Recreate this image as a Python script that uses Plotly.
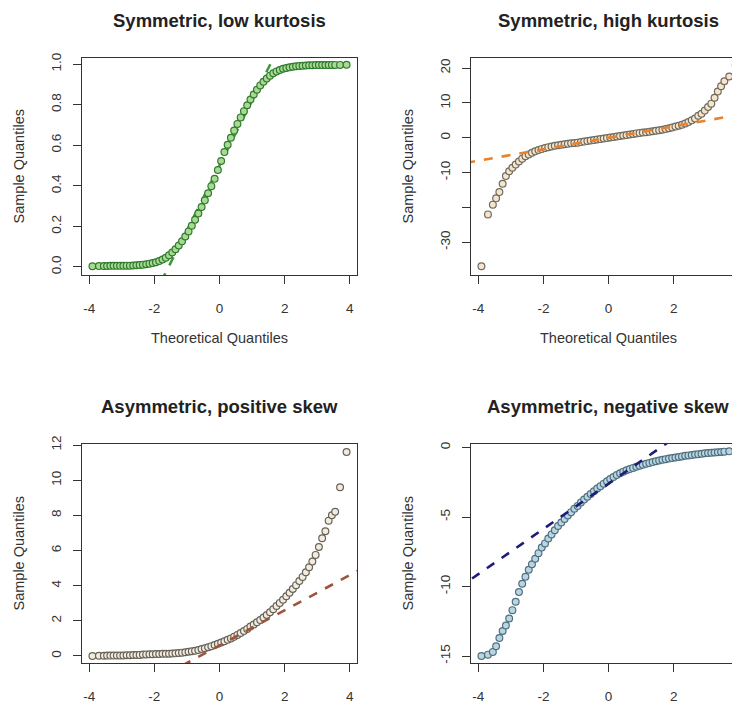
import plotly.graph_objects as go

# ---------------- data ----------------
theoretical_quantiles = [
    -3.9, -3.7, -3.55, -3.45, -3.35, -3.25, -3.15, -3.05, -2.95, -2.85,
    -2.75, -2.65, -2.55, -2.45, -2.35, -2.25, -2.15, -2.05, -1.95, -1.85,
    -1.75, -1.65, -1.55, -1.45, -1.35, -1.25, -1.15, -1.05, -0.95, -0.85,
    -0.75, -0.65, -0.55, -0.45, -0.35, -0.25, -0.15, -0.05,
    0.05, 0.15, 0.25, 0.35, 0.45, 0.55, 0.65, 0.75, 0.85, 0.95,
    1.05, 1.15, 1.25, 1.35, 1.45, 1.55, 1.65, 1.75, 1.85, 1.95,
    2.05, 2.15, 2.25, 2.35, 2.45, 2.55, 2.65, 2.75, 2.85, 2.95,
    3.05, 3.15, 3.25, 3.35, 3.45, 3.55, 3.7, 3.9,
]

low_kurtosis = [
    0.003, 0.004, 0.004, 0.004, 0.005, 0.005, 0.005, 0.005, 0.005, 0.006,
    0.006, 0.007, 0.008, 0.009, 0.011, 0.013, 0.016, 0.019, 0.023, 0.029,
    0.036, 0.045, 0.057, 0.071, 0.087, 0.105, 0.126, 0.150, 0.175, 0.203,
    0.232, 0.263, 0.295, 0.328, 0.363, 0.398, 0.434, 0.478,
    0.522, 0.566, 0.602, 0.637, 0.672, 0.705, 0.737, 0.768, 0.797, 0.825,
    0.850, 0.874, 0.895, 0.913, 0.929, 0.943, 0.955, 0.964, 0.971, 0.977,
    0.981, 0.984, 0.987, 0.989, 0.991, 0.992, 0.993, 0.994, 0.994, 0.995,
    0.995, 0.995, 0.995, 0.995, 0.996, 0.996, 0.996, 0.997,
]

high_kurtosis = [
    -36.9, -22.0, -19.2, -17.4, -15.6, -13.2, -11.0, -9.6, -8.6, -7.7,
    -6.8, -6.0, -5.3, -4.8, -4.3, -3.9, -3.5, -3.2, -2.95, -2.7,
    -2.5, -2.3, -2.15, -2.0, -1.85, -1.75, -1.6, -1.5, -1.4, -1.25,
    -1.1, -0.95, -0.8, -0.65, -0.5, -0.35, -0.2, -0.07,
    0.07, 0.2, 0.35, 0.5, 0.65, 0.8, 0.95, 1.1, 1.25, 1.4,
    1.5, 1.6, 1.75, 1.85, 2.0, 2.15, 2.3, 2.5, 2.7, 2.95,
    3.2, 3.45, 3.75, 4.1, 4.5, 5.0, 5.5, 6.3, 6.9, 7.8,
    8.8, 9.8, 11.5, 13.3, 14.8, 16.2, 17.6, 20.9,
]

positive_skew = [
    0.0, 0.01, 0.01, 0.02, 0.02, 0.02, 0.03, 0.03, 0.03, 0.04,
    0.04, 0.05, 0.05, 0.06, 0.08, 0.09, 0.10, 0.10, 0.11, 0.11,
    0.12, 0.12, 0.13, 0.14, 0.15, 0.17, 0.19, 0.21, 0.24, 0.27,
    0.30, 0.34, 0.39, 0.44, 0.50, 0.56, 0.62, 0.69,
    0.76, 0.84, 0.92, 1.00, 1.10, 1.20, 1.31, 1.42, 1.54, 1.67,
    1.79, 1.92, 2.05, 2.19, 2.33, 2.49, 2.66, 2.84, 3.02, 3.20,
    3.40, 3.60, 3.81, 4.03, 4.26, 4.50, 4.76, 5.05, 5.37, 5.75,
    6.20, 6.70, 7.10, 7.70, 8.00, 8.20, 9.60, 11.6,
]

negative_skew = [
    -15.0, -14.9, -14.7, -14.3, -13.7, -13.2, -12.8, -12.3, -11.7, -11.1,
    -10.4, -9.8, -9.3, -8.8, -8.4, -8.0, -7.6, -7.2, -6.9, -6.55,
    -6.25, -5.95, -5.65, -5.4, -5.15, -4.9, -4.65, -4.4, -4.2, -3.95,
    -3.75, -3.55, -3.35, -3.15, -2.95, -2.78, -2.6, -2.43,
    -2.27, -2.12, -1.98, -1.85, -1.74, -1.64, -1.55, -1.47, -1.39, -1.31,
    -1.24, -1.17, -1.11, -1.05, -0.99, -0.94, -0.89, -0.84, -0.80, -0.76,
    -0.72, -0.68, -0.64, -0.60, -0.57, -0.54, -0.51, -0.48, -0.45, -0.42,
    -0.40, -0.38, -0.36, -0.34, -0.32, -0.30, -0.28, -0.25,
]

panel_titles = [
    "Symmetric, low kurtosis",
    "Symmetric, high kurtosis",
    "Asymmetric, positive skew",
    "Asymmetric, negative skew",
]
sample_series = [low_kurtosis, high_kurtosis, positive_skew, negative_skew]

# reference (qq) line of each panel: intercept and slope
qqline_intercepts = [0.5, 0.0, 0.6, -2.6]
qqline_slopes = [0.32, 1.65, 1.0, 1.63]

x_tick_values = [-4, -2, 0, 2, 4]
y_tick_values = [
    [0.0, 0.2, 0.4, 0.6, 0.8, 1.0],
    [-30, -20, -10, 0, 10, 20],
    [0, 2, 4, 6, 8, 10, 12],
    [-15, -10, -5, 0],
]
y_tick_text = [
    ["0.0", "0.2", "0.4", "0.6", "0.8", "1.0"],
    ["-30", "", "-10", "0", "10", "20"],
    ["0", "2", "4", "6", "8", "10", "12"],
    ["-15", "-10", "-5", "0"],
]

# ---------------- styling ----------------
# the page body has an 8px margin, so the figure is sized to end at the window edge
OFF = 8
W, H = 740 - OFF, 704 - OFF
FONT = "Liberation Sans, Arial, Helvetica, sans-serif"
AXIS_COLOR = "#333333"
TEXT_COLOR = "#333333"

marker_fill = ["#a9da92", "#f6e4cc", "#f3ecde", "#b9d5e1"]
marker_edge = ["#2f7a2f", "#6e6a5e", "#66625a", "#4f6f7f"]
line_colors = ["#3c9a3c", "#e8822e", "#a0523a", "#1c1c7a"]
line_under_points = [True, False, False, False]


def px_x(p):
    return (p - OFF) / W


def px_y(p):
    return 1 - (p - OFF) / H


# page-pixel geometry of the four plot boxes (left, right, top, bottom)
boxes_px = [
    (82, 357, 58, 275),
    (471, 740, 58, 275),
    (82, 357, 444, 663),
    (471, 740, 444, 663),
]
panel_centers_px = [219, 608, 219, 608]
x_ranges = [[-4.22, 4.22], [-4.22, 4.03], [-4.22, 4.22], [-4.22, 4.03]]
y_ranges = [[-0.04, 1.03], [-39.4, 22.9], [-0.4, 12.06], [-15.5, 0.25]]
mirror_y = [True, False, True, False]

fig = go.Figure()

for i in range(4):
    ax = "" if i == 0 else str(i + 1)
    lx = [-6, 6]
    ly = [qqline_intercepts[i] + qqline_slopes[i] * v for v in lx]
    line_trace = go.Scatter(
        x=lx, y=ly, mode="lines",
        line=dict(color=line_colors[i], width=2.6, dash="9px,9px"),
        xaxis="x" + ax, yaxis="y" + ax, showlegend=False, hoverinfo="skip",
    )
    point_trace = go.Scatter(
        x=theoretical_quantiles, y=sample_series[i],
        mode="markers",
        marker=dict(symbol="circle", size=6.8, color=marker_fill[i],
                    line=dict(color=marker_edge[i], width=1.2)),
        xaxis="x" + ax, yaxis="y" + ax, showlegend=False, hoverinfo="x+y",
    )
    if line_under_points[i]:
        fig.add_trace(line_trace)
        fig.add_trace(point_trace)
    else:
        fig.add_trace(point_trace)
        fig.add_trace(line_trace)

layout = dict(
    width=W, height=H,
    margin=dict(l=0, r=0, t=0, b=0),
    paper_bgcolor="white", plot_bgcolor="white",
    showlegend=False,
    font=dict(family=FONT, color=TEXT_COLOR, size=13.5),
)

annotations = []
for i in range(4):
    l, r, t, b = boxes_px[i]
    ax = "" if i == 0 else str(i + 1)
    layout["xaxis" + ax] = dict(
        domain=[px_x(l), min(1.0, px_x(r))], range=x_ranges[i], anchor="y" + ax,
        showgrid=False, zeroline=False,
        showline=True, linecolor=AXIS_COLOR, linewidth=1, mirror=True,
        ticks="outside", ticklen=8, tickcolor=AXIS_COLOR, tickwidth=1,
        tickvals=x_tick_values,
        ticktext=[str(v) if v >= 0 else "-" + str(-v) for v in x_tick_values],
        tickfont=dict(family=FONT, size=13.5, color=TEXT_COLOR),
        ticklabelstandoff=13, ticklabeloverflow="allow",
        automargin=False, fixedrange=True,
    )
    layout["yaxis" + ax] = dict(
        domain=[px_y(b), px_y(t)], range=y_ranges[i], anchor="x" + ax,
        showgrid=False, zeroline=False,
        showline=True, linecolor=AXIS_COLOR, linewidth=1, mirror=mirror_y[i],
        ticks="outside", ticklen=8, tickcolor=AXIS_COLOR, tickwidth=1,
        tickvals=y_tick_values[i], ticktext=y_tick_text[i], tickangle=-90,
        tickfont=dict(family=FONT, size=13.5, color=TEXT_COLOR),
        ticklabelstandoff=7,
        automargin=False, fixedrange=True,
    )
    cx = panel_centers_px[i]
    # panel title
    annotations.append(dict(
        text="<b>" + panel_titles[i] + "</b>", xref="paper", yref="paper",
        x=px_x(cx), y=px_y(t - 38), xanchor="center", yanchor="middle",
        showarrow=False, font=dict(family=FONT, size=18.5, color="#222222"),
    ))
    # y axis title
    annotations.append(dict(
        text="Sample Quantiles", xref="paper", yref="paper",
        x=px_x(l - 64), y=px_y((t + b) / 2), xanchor="center", yanchor="middle",
        textangle=-90, showarrow=False,
        font=dict(family=FONT, size=14.5, color=TEXT_COLOR),
    ))
    # x axis title (the bottom row's titles fall below the picture)
    if i < 2:
        annotations.append(dict(
            text="Theoretical Quantiles", xref="paper", yref="paper",
            x=px_x(cx), y=px_y(b + 63), xanchor="center", yanchor="middle",
            showarrow=False, font=dict(family=FONT, size=14.5, color=TEXT_COLOR),
        ))

layout["annotations"] = annotations
fig.update_layout(**layout)

fig.write_html("out.html")
